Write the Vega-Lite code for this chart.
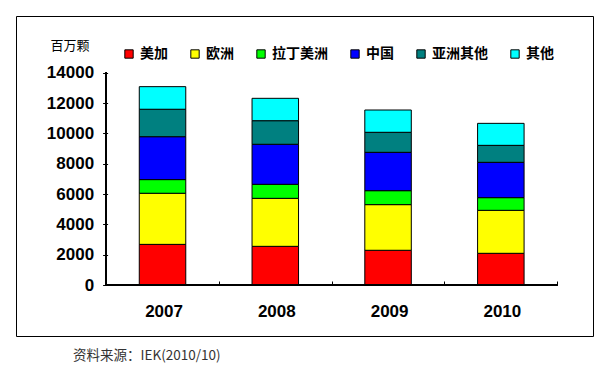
{
  "$schema": "https://vega.github.io/schema/vega-lite/v6.json",
  "width": 577,
  "height": 320,
  "autosize": {"type": "none"},
  "padding": {"left": 16, "top": 16, "right": 10, "bottom": 39},
  "background": "white",
  "config": {
    "view": {"stroke": "black", "strokeWidth": 1},
    "axis": {"grid": false}
  },
  "title": {
    "text": "资料来源：IEK(2010/10)",
    "orient": "bottom",
    "anchor": "start",
    "frame": "group",
    "dx": 57,
    "offset": 13,
    "font": "Noto Sans CJK SC",
    "fontSize": 13.5,
    "fontWeight": "normal",
    "color": "#333333"
  },
  "data": {
    "values": [
      {"year": 2007, "region": "美加", "k": 1, "value": 2680},
      {"year": 2007, "region": "欧洲", "k": 2, "value": 3370},
      {"year": 2007, "region": "拉丁美洲", "k": 3, "value": 900},
      {"year": 2007, "region": "中国", "k": 4, "value": 2830},
      {"year": 2007, "region": "亚洲其他", "k": 5, "value": 1810},
      {"year": 2007, "region": "其他", "k": 6, "value": 1490},
      {"year": 2008, "region": "美加", "k": 1, "value": 2550},
      {"year": 2008, "region": "欧洲", "k": 2, "value": 3165},
      {"year": 2008, "region": "拉丁美洲", "k": 3, "value": 925},
      {"year": 2008, "region": "中国", "k": 4, "value": 2640},
      {"year": 2008, "region": "亚洲其他", "k": 5, "value": 1555},
      {"year": 2008, "region": "其他", "k": 6, "value": 1475},
      {"year": 2009, "region": "美加", "k": 1, "value": 2290},
      {"year": 2009, "region": "欧洲", "k": 2, "value": 3010},
      {"year": 2009, "region": "拉丁美洲", "k": 3, "value": 920},
      {"year": 2009, "region": "中国", "k": 4, "value": 2530},
      {"year": 2009, "region": "亚洲其他", "k": 5, "value": 1320},
      {"year": 2009, "region": "其他", "k": 6, "value": 1470},
      {"year": 2010, "region": "美加", "k": 1, "value": 2090},
      {"year": 2010, "region": "欧洲", "k": 2, "value": 2835},
      {"year": 2010, "region": "拉丁美洲", "k": 3, "value": 835},
      {"year": 2010, "region": "中国", "k": 4, "value": 2330},
      {"year": 2010, "region": "亚洲其他", "k": 5, "value": 1120},
      {"year": 2010, "region": "其他", "k": 6, "value": 1450}
    ]
  },
  "layer": [
    {
      "mark": {"type": "bar", "width": 46.5, "stroke": "black", "strokeWidth": 1},
      "encoding": {
        "x": {
          "field": "year",
          "type": "quantitative",
          "scale": {"domain": [2005.745, 2010.773], "nice": false, "zero": false},
          "axis": {
            "orient": "bottom",
            "offset": -51,
            "values": [2006.5, 2007.5, 2008.5, 2009.5, 2010.5],
            "labelExpr": "datum.value < 2010.4 ? format(datum.value + 0.5, 'd') : ''",
            "labelOffset": 57.4,
            "labelOverlap": false,
            "labelFlush": false,
            "labelBound": false,
            "tickSize": -4,
            "tickColor": "black",
            "domain": false,
            "labelPadding": 22,
            "labelFont": "Liberation Sans",
            "labelFontSize": 17,
            "labelFontWeight": "bold",
            "labelColor": "black",
            "title": null
          }
        },
        "y": {
          "field": "value",
          "type": "quantitative",
          "stack": "zero",
          "scale": {"domain": [-3363, 17739], "nice": false, "zero": false},
          "axis": {
            "orient": "left",
            "offset": -86.6,
            "values": [0, 2000, 4000, 6000, 8000, 10000, 12000, 14000],
            "format": "d",
            "tickSize": -5,
            "tickColor": "black",
            "domain": false,
            "labelPadding": 14,
            "labelFont": "Liberation Sans",
            "labelFontSize": 17,
            "labelFontWeight": "bold",
            "labelColor": "black",
            "title": "百万颗",
            "titleAngle": 0,
            "titleX": -33,
            "titleY": 29,
            "titleAlign": "center",
            "titleBaseline": "middle",
            "titleFont": "Noto Sans CJK SC",
            "titleFontSize": 13,
            "titleFontWeight": "normal",
            "titleColor": "black"
          }
        },
        "order": {"field": "k", "type": "quantitative", "sort": "ascending"},
        "color": {
          "field": "region",
          "type": "nominal",
          "sort": ["美加", "欧洲", "拉丁美洲", "中国", "亚洲其他", "其他"],
          "scale": {
            "domain": ["美加", "欧洲", "拉丁美洲", "中国", "亚洲其他", "其他"],
            "range": ["#FF0000", "#FFFF00", "#00FF00", "#0000FF", "#008080", "#00FFFF"]
          },
          "legend": {
            "orient": "none",
            "legendX": 106,
            "legendY": 31,
            "direction": "horizontal",
            "columns": 6,
            "columnPadding": 20,
            "title": null,
            "symbolType": "square",
            "symbolSize": 70,
            "symbolStrokeColor": "black",
            "symbolStrokeWidth": 1,
            "labelOffset": 4,
            "labelFont": "Noto Sans CJK SC",
            "labelFontSize": 14,
            "labelFontWeight": "bold",
            "labelColor": "black"
          }
        }
      }
    },
    {
      "mark": {"type": "rule", "color": "black", "strokeWidth": 1},
      "encoding": {
        "x": {"datum": 2006.5, "type": "quantitative"},
        "y": {"datum": 0, "type": "quantitative"},
        "y2": {"datum": 14000}
      }
    },
    {
      "mark": {"type": "rule", "color": "black", "strokeWidth": 1},
      "encoding": {
        "y": {"datum": 0, "type": "quantitative"},
        "x": {"datum": 2006.5, "type": "quantitative"},
        "x2": {"datum": 2010.5}
      }
    }
  ]
}
